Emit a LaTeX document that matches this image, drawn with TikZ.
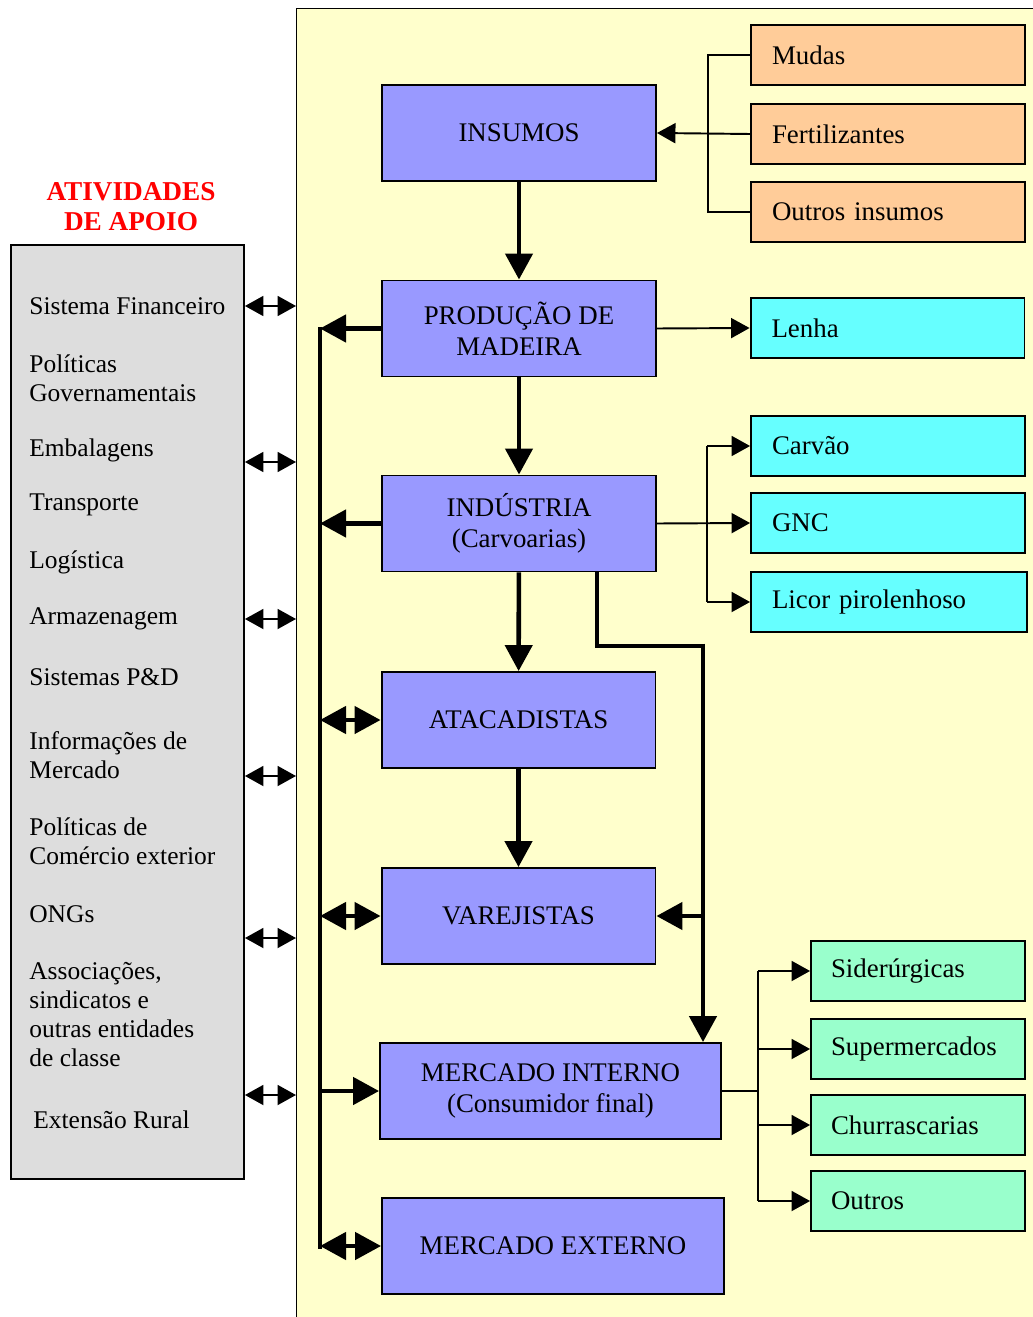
\documentclass[tikz,border=0pt]{standalone}
\usepackage{fontspec}
\setmainfont{Liberation Serif}
\usepackage{xcolor}
\usepackage{tikz}
\usetikzlibrary{arrows.meta,positioning}
\definecolor{chainyellow}{HTML}{FFFFCC}
\definecolor{stageblue}{HTML}{9999FF}
\definecolor{inputorange}{HTML}{FFCC99}
\definecolor{prodcyan}{HTML}{66FFFF}
\definecolor{marketgreen}{HTML}{99FFCC}
\definecolor{supportgray}{HTML}{DDDDDD}

\begin{document}
\begin{tikzpicture}[
    x=0.02cm, y=-0.02cm,
    stagebox/.style={rectangle, draw=black, fill=stageblue, line width=1.1pt, minimum width=5.48cm, minimum height=1.92cm, align=center, font=\fontsize{15.3}{17.5}\selectfont},
    itembox/.style={rectangle, draw=black, fill=#1, line width=1.1pt, text width=4.64cm, inner xsep=0.42cm, minimum height=1.2cm, align=left, font=\fontsize{15.3}{17}\selectfont},
    itembox/.default=inputorange,
    supitem/.style={anchor=west, align=left, inner sep=0pt, font=\fontsize{14.5}{16.5}\selectfont},
    arr/.style={-{Triangle[length=0.52cm, width=0.54cm]}, line width=2.6pt},
    darr/.style={{Triangle[length=0.52cm, width=0.54cm]}-{Triangle[length=0.52cm, width=0.54cm]}, line width=2.6pt},
    thinline/.style={line width=1.1pt},
    tarr/.style={-{Triangle[length=0.37cm, width=0.4cm]}, line width=1.1pt},
    tdarr/.style={{Triangle[length=0.37cm, width=0.4cm]}-{Triangle[length=0.37cm, width=0.4cm]}, line width=1.1pt},
  ]
    \useasboundingbox (0,0) rectangle (1033,1317);

    % Chain panel and support activities
    \node[draw=black, fill=chainyellow, line width=0.8pt, anchor=north west, minimum width=15cm, minimum height=27cm, inner sep=0pt] (cadeia) at (296,8) {};
    \node[draw=black, fill=supportgray, line width=1.1pt, minimum width=4.66cm, minimum height=18.68cm] (apoio) at (127.5,712) {};
    \node[text=red, align=center, font=\fontsize{15.5}{17}\selectfont\bfseries] (titulo) at (131,207) {ATIVIDADES\\DE APOIO};

    \node[supitem] (sup1) at (29,306) {Sistema Financeiro};
    \node[supitem] (sup2) at (29,378.5) {Políticas\\Governamentais};
    \node[supitem] (sup3) at (29,450) {Embalagens};
    \node[supitem] (sup4) at (29,505) {Transporte};
    \node[supitem] (sup5) at (29,562) {Logística};
    \node[supitem] (sup6) at (29,619) {Armazenagem};
    \node[supitem] (sup7) at (29,677) {Sistemas P\&D};
    \node[supitem] (sup8) at (29,755.5) {Informações de\\Mercado};
    \node[supitem] (sup9) at (29,841.5) {Políticas de\\Comércio exterior};
    \node[supitem] (sup10) at (29,914) {ONGs};
    \node[supitem] (sup11) at (29,1014.5) {Associações,\\sindicatos e\\outras entidades\\de classe};
    \node[supitem] (sup12) at (33,1120) {Extensão Rural};

    \foreach \yy in {306,462,619,776,938,1095}
      \draw[tdarr] (apoio.east |- 0,\yy) -- (cadeia.west |- 0,\yy);

    % Chain stages
    \node[stagebox] (insumos) at (519,133) {INSUMOS};
    \node[stagebox] (producao) at (519,328.5) {PRODUÇÃO DE\\MADEIRA};
    \node[stagebox] (industria) at (519,523.5) {INDÚSTRIA\\(Carvoarias)};
    \node[stagebox] (atacadistas) at (518.5,720) {ATACADISTAS};
    \node[stagebox] (varejistas) at (518.5,916) {VAREJISTAS};
    \node[stagebox, minimum width=6.82cm] (mercint) at (550.5,1091) {MERCADO INTERNO\\(Consumidor final)};
    \node[stagebox, minimum width=6.84cm] (mercext) at (553,1246) {MERCADO EXTERNO};

    % Inputs and products
    \node[itembox] (mudas) at (888,55) {Mudas};
    \node[itembox] (fertil) at (888,134) {Fertilizantes};
    \node[itembox] (outrosins) at (888,212) {Outros insumos};
    \node[itembox=prodcyan] (lenha) at (887.5,328) {Lenha};
    \node[itembox=prodcyan] (carvao) at (888,446) {Carvão};
    \node[itembox=prodcyan] (gnc) at (888,523) {GNC};
    \node[itembox=prodcyan, text width=4.68cm] (licor) at (889,602) {Licor pirolenhoso};
    \node[itembox=marketgreen, text width=3.48cm, inner xsep=0.4cm] (sider) at (918,971) {Siderúrgicas};
    \node[itembox=marketgreen, text width=3.48cm, inner xsep=0.4cm] (super) at (918,1049) {Supermercados};
    \node[itembox=marketgreen, text width=3.48cm, inner xsep=0.4cm] (churr) at (918,1125) {Churrascarias};
    \node[itembox=marketgreen, text width=3.48cm, inner xsep=0.4cm] (outrosmer) at (918,1201) {Outros};

    % Main flow
    \draw[arr] (insumos) -- (producao);
    \draw[arr] (producao) -- (industria);
    \draw[arr] (industria) -- (atacadistas);
    \draw[arr] (atacadistas) -- (varejistas);

    \coordinate (desvio) at (703,646);
    \draw[line width=2.6pt] (industria.south -| 597,0) |- (desvio);
    \draw[arr] ([yshift=1.3pt]desvio) -- (desvio |- mercint.north);
    \draw[arr] (varejistas.east -| desvio) -- (varejistas.east);

    % Bus to the stages
    \coordinate (bustop) at (320,327);
    \coordinate (busbot) at (320,1249);
    \draw[line width=2.8pt] (bustop) -- (busbot);
    \draw[arr] (producao.west) -- (producao.west -| bustop);
    \draw[arr] (industria.west) -- (industria.west -| bustop);
    \draw[darr] (atacadistas.west -| bustop) -- (atacadistas.west);
    \draw[darr] (varejistas.west -| bustop) -- (varejistas.west);
    \draw[arr] (mercint.west -| bustop) -- (mercint.west);
    \draw[darr] (mercext.west -| bustop) -- (mercext.west);

    % Side branches
    \coordinate (jins) at (708,134);
    \draw[thinline] (mudas.west) -- (mudas.west -| jins) -- (outrosins.west -| jins) -- (outrosins.west);
    \draw[tarr] (fertil.west) -- (insumos.east);

    \draw[tarr] (producao.east) -- (lenha.west);

    \coordinate (jind) at (707,523);
    \draw[tarr] (industria.east) -- (gnc.west);
    \draw[thinline] (carvao.west -| jind) -- (licor.west -| jind);
    \draw[tarr] (carvao.west -| jind) -- (carvao.west);
    \draw[tarr] (licor.west -| jind) -- (licor.west);

    \coordinate (jmer) at (758,1091);
    \draw[thinline] (mercint.east) -- (jmer);
    \draw[thinline] (sider.west -| jmer) -- (outrosmer.west -| jmer);
    \draw[tarr] (sider.west -| jmer) -- (sider.west);
    \draw[tarr] (super.west -| jmer) -- (super.west);
    \draw[tarr] (churr.west -| jmer) -- (churr.west);
    \draw[tarr] (outrosmer.west -| jmer) -- (outrosmer.west);

  \end{tikzpicture}
\end{document}
